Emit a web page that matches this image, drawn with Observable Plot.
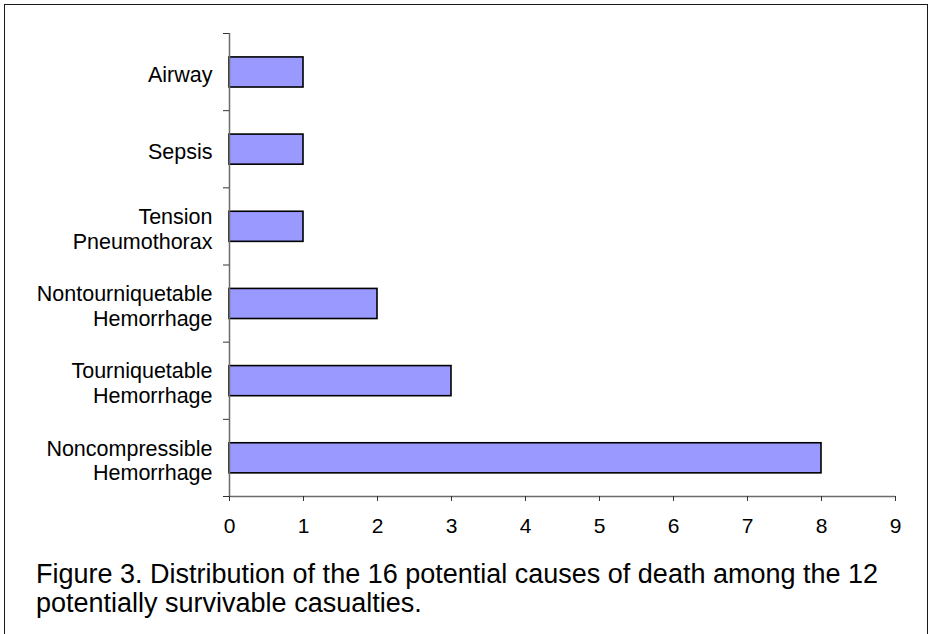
<!DOCTYPE html>
<html>
<head>
<meta charset="utf-8">
<script src="https://cdn.jsdelivr.net/npm/d3@7"></script>
<script src="https://cdn.jsdelivr.net/npm/@observablehq/plot@0.6"></script>
<style>
  body { margin: 0; background: #fff; }
  #wrap { position: relative; width: 930px; height: 634px; overflow: hidden; background: #fff; }
  #frame { position: absolute; left: 4px; top: 4px; width: 924px; height: 700px; border: 1.5px solid #1a1a1a; box-sizing: border-box; }
  #chart { position: absolute; left: 0; top: 0; }
  #caption { position: absolute; left: 36px; top: 560px; font-family: "Liberation Sans", Arial, sans-serif; font-size: 27px; line-height: 29px; color: #000; white-space: nowrap; }
</style>
</head>
<body>
<div id="wrap">
  <div id="frame"></div>
  <div id="chart"></div>
  <div id="caption">Figure 3. Distribution of the 16 potential causes of death among the 12<br>potentially survivable casualties.</div>
</div>
<script>
// Categories listed bottom to top
const categories = [
  "Noncompressible\nHemorrhage",
  "Tourniquetable\nHemorrhage",
  "Nontourniquetable\nHemorrhage",
  "Tension\nPneumothorax",
  "Sepsis",
  "Airway"
];
const values = [8, 3, 2, 1, 1, 1];
const xTicks = [0, 1, 2, 3, 4, 5, 6, 7, 8, 9];

const data = categories.map((c, i) => ({i, category: c, value: values[i]}));
const boundaries = d3.range(categories.length + 1);
const centers = categories.map((c, i) => i + 0.5);

const chart = Plot.plot({
  width: 930,
  height: 545,
  marginTop: 33,
  marginBottom: 49,
  marginLeft: 229,
  marginRight: 35,
  style: {fontFamily: "'Liberation Sans', Arial, sans-serif", fontSize: "21px", color: "#000", background: "transparent"},
  x: {domain: [0, 9], label: null},
  y: {domain: [0, categories.length], label: null},
  marks: [
    Plot.rect(data, {x1: 0, x2: "value", y1: d => d.i + 0.3, y2: d => d.i + 0.69, fill: "#9999FF", stroke: "#000", strokeWidth: 1.6}),
    Plot.ruleX([0], {y1: 0, y2: categories.length, stroke: "#6b6b6b", strokeWidth: 1.5}),
    Plot.ruleY([0], {x1: 0, x2: 9, stroke: "#6b6b6b", strokeWidth: 1.5}),
    Plot.axisY({ticks: boundaries, tickSize: 6, tickFormat: () => "", stroke: "#333"}),
    Plot.axisY({ticks: centers, tickSize: 0, tickPadding: 17, dy: 2, lineHeight: 1.14,
      tickFormat: (d) => categories[Math.floor(d)], fontSize: 21.5}),
    Plot.axisX({ticks: xTicks, tickSize: 5, tickPadding: 17, tickFormat: d => String(d), stroke: "#333", fontSize: 21})
  ]
});
document.getElementById("chart").appendChild(chart);
</script>
</body>
</html>
